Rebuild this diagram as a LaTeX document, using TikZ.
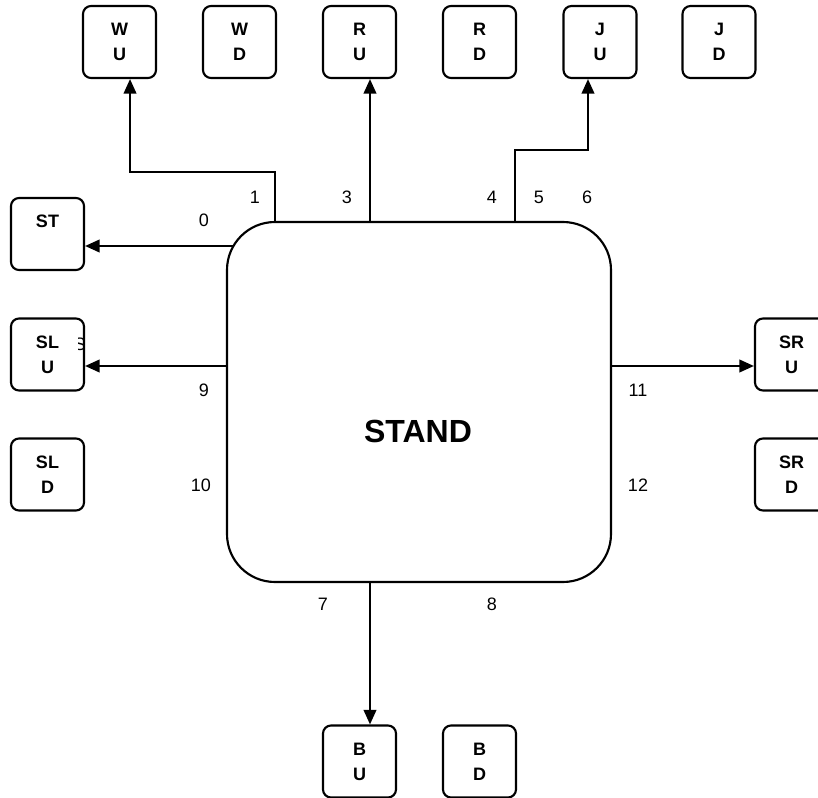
\documentclass[tikz,border=0pt]{standalone}
\usepackage{fontspec}
\setmainfont{Liberation Sans}
\usetikzlibrary{arrows.meta}

\begin{document}
\begin{tikzpicture}[
                x=0.75pt, y=-0.75pt,
                line width=1.6pt,
                key/.style={draw, rounded corners=6pt, fill=white,
                        minimum width=54.75pt, minimum height=54pt,
                        align=center, inner sep=0pt,
                        font=\bfseries\fontsize{13.5}{18.75}\selectfont},
                standbox/.style={draw, rounded corners=36pt,
                        minimum width=288pt, minimum height=270pt, inner sep=0pt},
                num/.style={inner sep=0pt, font=\fontsize{13.5}{15}\selectfont},
                arr/.style={-{Triangle[length=11pt, width=9.5pt]}}
            ]

            \useasboundingbox (0,0) rectangle (818,798);
            \clip (0,0) rectangle (818,798);

            \node[standbox] (stand) at (419,402) {};
            \node[inner sep=0pt, font=\bfseries\fontsize{24}{28}\selectfont] (standlbl) at (418,431) {STAND};

            \node[key] (wu) at (119.5,42) {W\\U};
            \node[key] (wd) at (239.5,42) {W\\D};
            \node[key] (ru) at (359.5,42) {R\\U};
            \node[key] (rd) at (479.5,42) {R\\D};
            \node[key] (ju) at (600,42) {J\\U};
            \node[key] (jd) at (719,42) {J\\D};

            \node[key] (st)  at (47.5,234)  {ST\\\phantom{U}};
            \node[key] (slu) at (47.5,354.5) {SL\\U};
            \node[key] (sld) at (47.5,474.5) {SL\\D};

            \node[key] (sru) at (791.5,354.5) {SR\\U};
            \node[key] (srd) at (791.5,474.5) {SR\\D};

            \node[key] (bu) at (359.5,761.5) {B\\U};
            \node[key] (bd) at (479.5,761.5) {B\\D};

            \begin{scope}
                \clip (78.5,320) rectangle (82.5,360);
                \node[num] (stray) at (80,344) {S};
            \end{scope}

            \coordinate (p0)  at (233.4,246);
            \coordinate (p1)  at (275,222);
            \coordinate (p3)  at (370,222);
            \coordinate (p5)  at (515,222);
            \coordinate (p9)  at (227,366);
            \coordinate (p11) at (611,366);
            \coordinate (p7)  at (370,582);

            \draw[arr] (p0) -- (st.east |- p0);
            \draw[arr] (p1) -- ++(0,-50) -| ([xshift=7.9pt]wu.south);
            \draw[arr] (p3) -- (ru.south -| p3);
            \draw[arr] (p5) -- ++(0,-72) -| ([xshift=-9pt]ju.south);
            \draw[arr] (p9) -- (slu.east |- p9);
            \draw[arr] (p11) -- (sru.west |- p11);
            \draw[arr] (p7) -- (bu.north -| p7);

            \node[num] (l0)  at (204,220) {0};
            \node[num] (l1)  at (255,197) {1};
            \node[num] (l3)  at (347,197) {3};
            \node[num] (l4)  at (492,197) {4};
            \node[num] (l5)  at (539,197) {5};
            \node[num] (l6)  at (587,197) {6};
            \node[num] (l9)  at (204,390) {9};
            \node[num] (l10) at (201,485) {10};
            \node[num] (l11) at (638,390) {11};
            \node[num] (l12) at (638,485) {12};
            \node[num] (l7)  at (323,604) {7};
            \node[num] (l8)  at (492,604) {8};

        \end{tikzpicture}
\end{document}
